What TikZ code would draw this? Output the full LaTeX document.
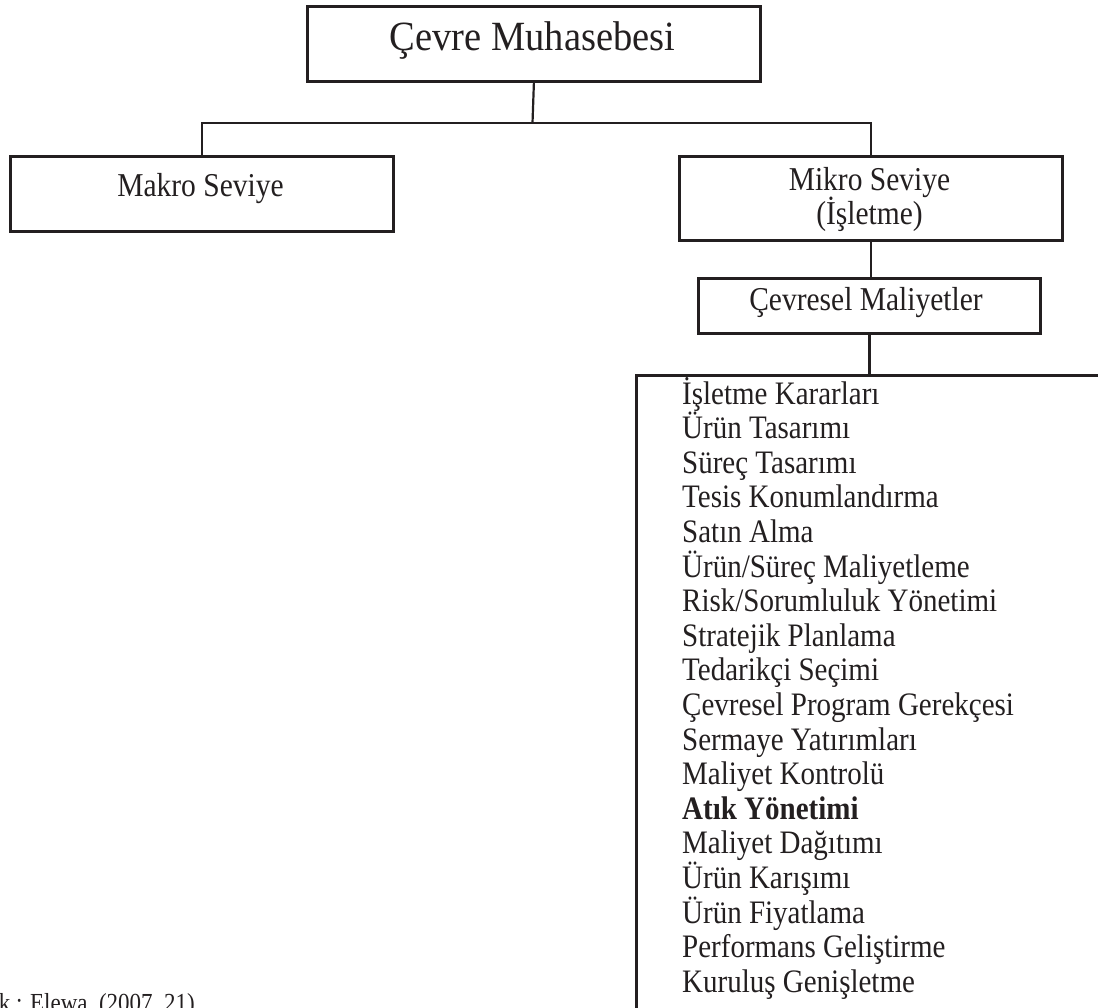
\documentclass[tikz,border=0pt]{standalone}
\usepackage{fontspec}
\usepackage{graphicx}
\setmainfont{Liberation Serif}
\definecolor{ink}{RGB}{35,31,32}
\newcommand{\vtall}[1]{\scalebox{1}[1.13]{#1}}
\begin{document}
\begin{tikzpicture}[x=1pt,y=-1pt,
  box/.style={draw=ink, line width=2.8pt, inner sep=0pt, anchor=north west},
  conn/.style={draw=ink, line width=2.2pt},
  lbl/.style={anchor=base, inner sep=0pt, font=\fontsize{29.5}{34}\selectfont, text=ink},
  item/.style={anchor=base west, inner sep=0pt, font=\fontsize{29}{34}\selectfont, text=ink}]
\useasboundingbox (0,0) rectangle (1098,1008);
\clip (0,0) rectangle (1098,1008);
\node[box, minimum width=453pt, minimum height=75pt] (top) at (306,5) {};
\node[box, minimum width=383pt, minimum height=75pt] (mak) at (9,155) {};
\node[box, minimum width=383pt, minimum height=84pt] (mik) at (678,155) {};
\node[box, minimum width=342pt, minimum height=55pt] (cev) at (697,277) {};
\node[box, minimum width=500pt, minimum height=700pt] (list) at (635,374) {};
\node[lbl, font=\fontsize{38.5}{44}\selectfont] (topT) at (532.5,51) {\scalebox{1}[1.08]{Çevre Muhasebesi}};
\node[lbl] (makT) at (200.5,197) {\vtall{Makro Seviye}};
\node[lbl] (mikT1) at (869.5,191) {\vtall{Mikro Seviye}};
\node[lbl] (mikT2) at (869.5,225) {\vtall{(İşletme)}};
\node[lbl] (cevT) at (866,311) {\vtall{Çevresel Maliyetler}};
\foreach \t [count=\i from 0] in {İşletme Kararları, Ürün Tasarımı, Süreç Tasarımı, Tesis Konumlandırma, Satın Alma, Ürün/Süreç Maliyetleme, Risk/Sorumluluk Yönetimi, Stratejik Planlama, Tedarikçi Seçimi, Çevresel Program Gerekçesi, Sermaye Yatırımları, Maliyet Kontrolü, {\textbf{Atık Yönetimi}}, Maliyet Dağıtımı, Ürün Karışımı, Ürün Fiyatlama, Performans Geliştirme, Kuruluş Genişletme}
  \node[item] (it\i) at (682,404+34.6*\i) {\vtall{\t}};
\node[anchor=base west, inner sep=0pt, font=\fontsize{23}{27}\selectfont, text=ink] (src) at (-1.4,1011) {\vtall{k : Elewa, (2007, 21)}};
\coordinate (j) at (532.5,123);
\draw[conn] (top.south) -- (j);
\draw[conn] (mak.north) |- (j) -| (mik.north);
\draw[conn] (mik.south) -- (mik.south |- cev.north);
\draw[conn] (cev.south) -- (cev.south |- list.north);
\end{tikzpicture}
\end{document}
